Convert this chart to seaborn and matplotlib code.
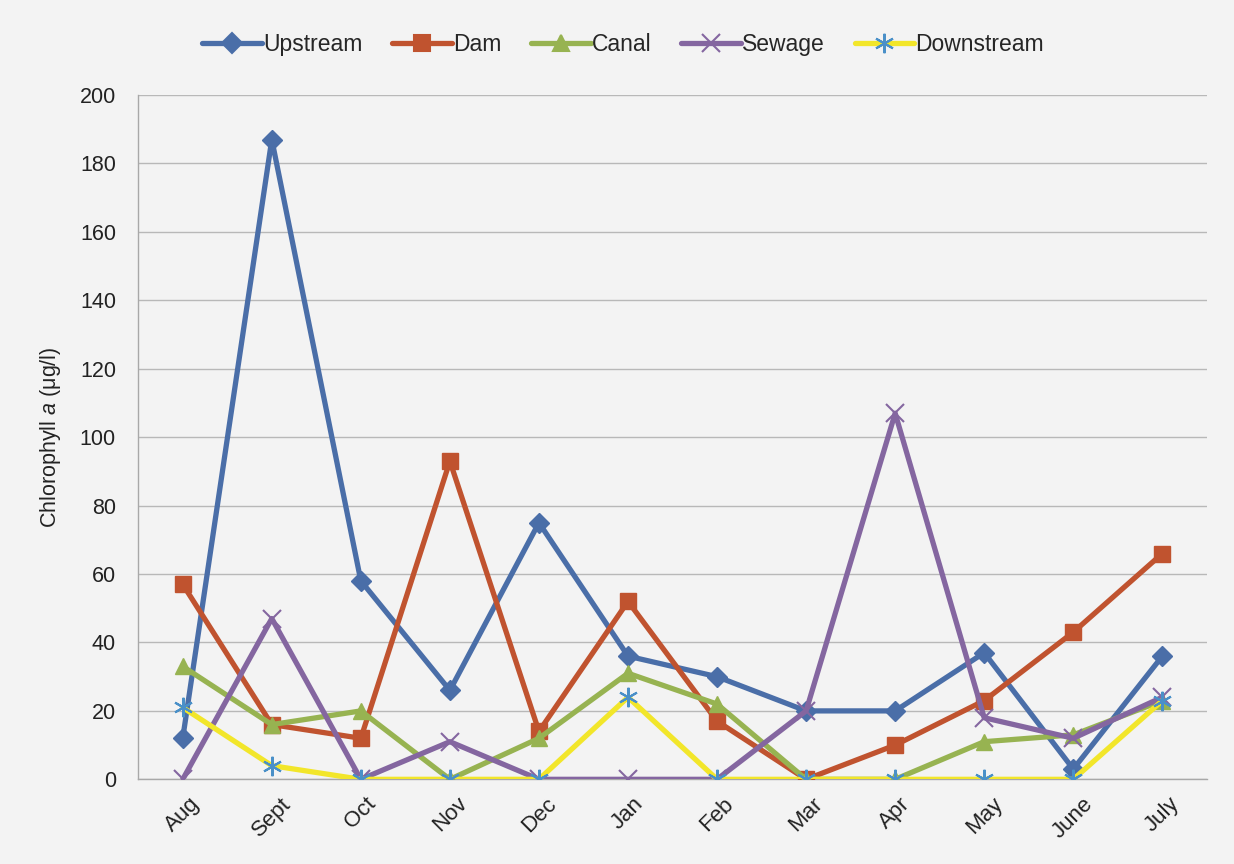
import pandas as pd
import numpy as np
import matplotlib.pyplot as plt
import seaborn as sns
from matplotlib.lines import Line2D

months = ['Aug', 'Sept', 'Oct', 'Nov', 'Dec', 'Jan', 'Feb', 'Mar', 'Apr', 'May', 'June', 'July']
upstream = [12, 187, 58, 26, 75, 36, 30, 20, 20, 37, 3, 36]
dam = [57, 16, 12, 93, 14, 52, 17, 0, 10, 23, 43, 66]
canal = [33, 16, 20, 0, 12, 31, 22, 0, 0, 11, 13, 23]
sewage = [0, 47, 0, 11, 0, 0, 0, 20, 107, 18, 12, 24]
downstream = [21, 4, 0, 0, 0, 24, 0, 0, 0, 0, 0, 23]

sites = ['Upstream', 'Dam', 'Canal', 'Sewage', 'Downstream']
series = [upstream, dam, canal, sewage, downstream]

# line colour, marker, marker colour, marker size
styles = {
    'Upstream': ('#4a6ea8', 'D', '#4a6ea8', 10),
    'Dam': ('#c0532f', 's', '#c0532f', 12),
    'Canal': ('#97b351', '^', '#97b351', 11),
    'Sewage': ('#8466a0', 'x', '#8466a0', 13),
    'Downstream': ('#f2e62a', (6, 2, 0), '#4a90c8', 14),
}

df = pd.DataFrame({
    'month': np.tile(months, len(sites)),
    'site': np.repeat(sites, len(months)),
    'value': np.concatenate(series),
})

sns.set_theme(style='white')
plt.rcParams['font.family'] = ['Liberation Sans', 'DejaVu Sans']
plt.rcParams['mathtext.fontset'] = 'custom'
plt.rcParams['mathtext.it'] = 'Liberation Sans:italic'
plt.rcParams['mathtext.rm'] = 'Liberation Sans'

bg = '#f3f3f3'
fig = plt.figure(figsize=(12.34, 8.64), dpi=100, facecolor=bg)
ax = fig.add_axes([0.112, 0.098, 0.866, 0.792])
ax.set_facecolor(bg)

handles = []
for site in sites:
    lc, mk, mc, ms = styles[site]
    sub = df[df['site'] == site]
    sns.lineplot(data=sub, x='month', y='value', ax=ax, color=lc, linewidth=3.8,
                 marker=mk, markersize=ms, markerfacecolor=mc, markeredgecolor=mc,
                 markeredgewidth=1.5 if mk == 'x' or isinstance(mk, tuple) else 1,
                 sort=False, legend=False, zorder=3)
    handles.append(Line2D([0], [0], color=lc, linewidth=3.8, marker=mk, markersize=ms,
                          markerfacecolor=mc, markeredgecolor=mc, markeredgewidth=1.5))

ax.set_xlim(-0.5, len(months) - 0.5)
ax.set_ylim(0, 200)
ax.set_yticks(range(0, 201, 20))
ax.yaxis.grid(True, color='#b8b8b8', linewidth=1)
ax.set_axisbelow(True)
for s in ['top', 'right']:
    ax.spines[s].set_visible(False)
for s in ['left', 'bottom']:
    ax.spines[s].set_color('#a8a8a8')
    ax.spines[s].set_linewidth(1)

ax.tick_params(axis='y', labelsize=15.5, colors='#222222', length=0, pad=16)
ax.tick_params(axis='x', labelsize=16, colors='#222222', length=0, pad=10)
for lbl in ax.get_xticklabels():
    lbl.set_rotation(45)
    lbl.set_ha('center')
    lbl.set_va('top')

ax.set_xlabel('')
ax.set_ylabel('Chlorophyll $\\mathit{a}$ ($\\mathrm{\\mu}$g/l)', fontsize=15.5, color='#222222', labelpad=12)

fig.legend(handles, sites, loc='center', bbox_to_anchor=(0.505, 0.949), ncol=5,
           frameon=False, fontsize=16.5, handlelength=2.6, columnspacing=1.3, handletextpad=0.05)

fig.savefig('out.png', dpi=100, facecolor=bg)
